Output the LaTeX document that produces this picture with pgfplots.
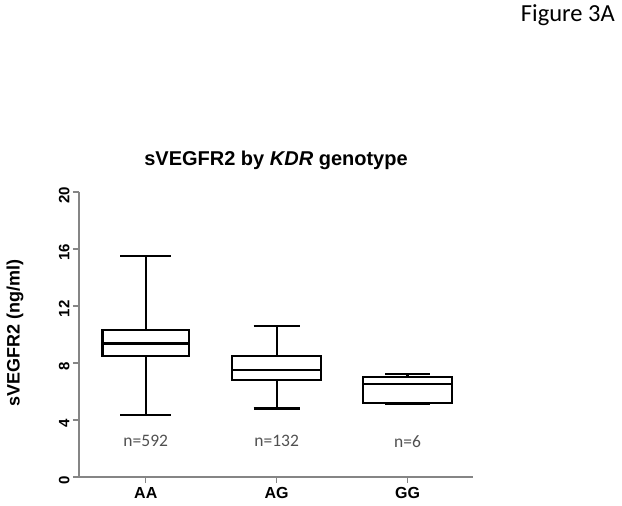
\documentclass[border=0pt]{standalone}
\usepackage{fontspec}
\setmainfont{Liberation Sans}
\newfontfamily\calibri{Carlito}
\usepackage{pgfplots}
\pgfplotsset{compat=1.18}
\definecolor{axgray}{HTML}{858585}
\definecolor{ngray}{HTML}{505050}
\pgfplotsset{bx/.style={black, solid, line width=2.2pt, line join=miter, mark=none}}
\begin{document}
\begin{tikzpicture}[x=1pt,y=1pt]
\path[use as bounding box] (0,0) rectangle (622,506);
\begin{axis}[
  at={(79pt,29pt)}, anchor=south west,
  scale only axis, width=394pt, height=285pt,
  xmin=-0.51, xmax=2.5, ymin=0, ymax=20,
  axis lines*=left,
  axis line style={axgray, line width=1.4pt},
  xtick={0,1,2}, xticklabels={AA,AG,GG},
  ytick={0,4,8,12,16,20},
  tick style={axgray, line width=1.2pt},
  tick align=outside,
  major tick length=6pt,
  /pgf/number format/assume math mode=true,
  yticklabel style={rotate=90, font=\bfseries\fontsize{15}{18}\selectfont, anchor=south, xshift=-3pt},
  xticklabel style={font=\bfseries\fontsize{16}{19}\selectfont, yshift=-1pt},
  title={sVEGFR2 by \textit{KDR} genotype},
  title style={at={(axis description cs:0.5,1)}, anchor=center, yshift=26pt, font=\bfseries\fontsize{20}{24}\selectfont},
  clip=false,
]
% AA
\addplot[bx] coordinates {(-0.33,8.5) (0.33,8.5) (0.33,10.3) (-0.33,10.3)} --cycle;
\addplot[bx] coordinates {(-0.33,9.37) (0.33,9.37)};
\addplot[bx] coordinates {(0,10.3) (0,15.5)};
\addplot[bx] coordinates {(-0.195,15.5) (0.195,15.5)};
\addplot[bx] coordinates {(0,8.5) (0,4.37)};
\addplot[bx] coordinates {(-0.195,4.37) (0.195,4.37)};
% AG
\addplot[bx] coordinates {(0.66,6.8) (1.34,6.8) (1.34,8.5) (0.66,8.5)} --cycle;
\addplot[bx] coordinates {(0.66,7.5) (1.34,7.5)};
\addplot[bx] coordinates {(1,8.5) (1,10.6)};
\addplot[bx] coordinates {(0.825,10.6) (1.175,10.6)};
\addplot[bx] coordinates {(1,6.8) (1,4.8)};
\addplot[bx] coordinates {(0.825,4.8) (1.175,4.8)};
% GG
\addplot[bx] coordinates {(1.66,5.21) (2.34,5.21) (2.34,7.04) (1.66,7.04)} --cycle;
\addplot[bx] coordinates {(1.66,6.55) (2.34,6.55)};
\addplot[bx] coordinates {(2,7.04) (2,7.25)};
\addplot[bx] coordinates {(1.83,7.25) (2.17,7.25)};
\addplot[bx] coordinates {(2,5.21) (2,5.16)};
\addplot[bx] coordinates {(1.83,5.16) (2.17,5.16)};
\node[ngray, font=\calibri\fontsize{17.5}{20}\selectfont] at (axis cs:0,2.5) {n=592};
\node[ngray, font=\calibri\fontsize{17.5}{20}\selectfont] at (axis cs:1,2.5) {n=132};
\node[ngray, font=\calibri\fontsize{17.5}{20}\selectfont] at (axis cs:2,2.5) {n=6};
\end{axis}
\node[rotate=90, font=\bfseries\fontsize{18}{21}\selectfont] at (15,173) {sVEGFR2 (ng/ml)};
\node[anchor=base east, font=\calibri\fontsize{24.5}{28}\selectfont, inner sep=0pt] at (615,484) {Figure 3A};
\end{tikzpicture}
\end{document}
